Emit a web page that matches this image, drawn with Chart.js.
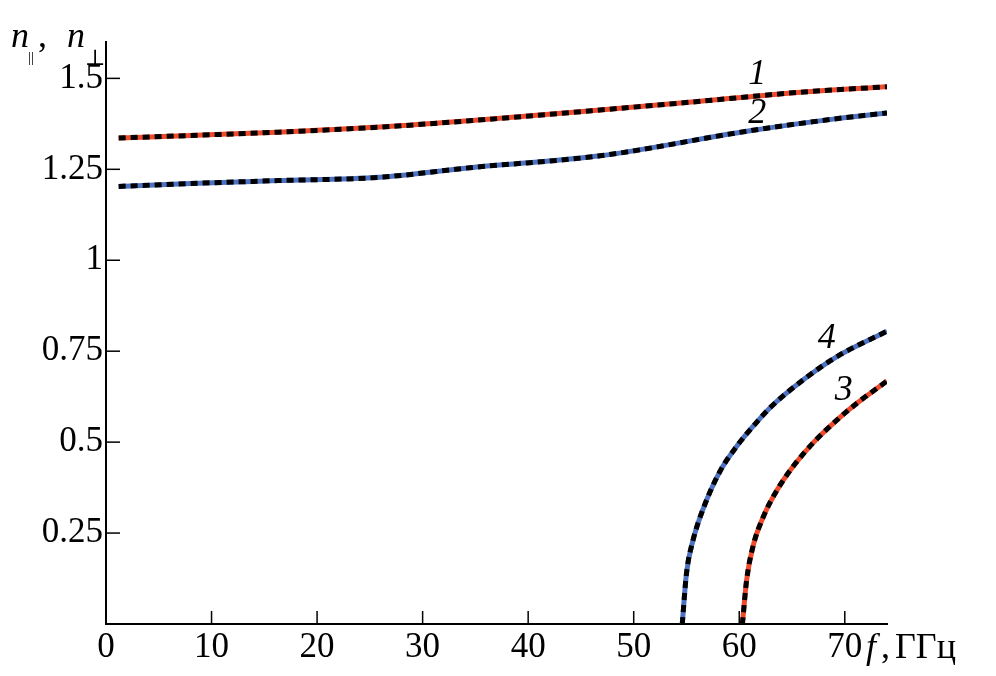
<!DOCTYPE html>
<html><head><meta charset="utf-8">
<script src="https://cdn.jsdelivr.net/npm/chart.js@4.4.0/dist/chart.umd.min.js"></script>
<style>html,body{margin:0;padding:0;background:#fff;}#wrap{width:996px;height:676px;position:relative;}</style>
</head><body><div id="wrap"><canvas id="c" width="996" height="676"></canvas></div>
<script>
// tick values and labels
const xTicks = [0, 10, 20, 30, 40, 50, 60, 70];
const xTickLabels = ['0', '10', '20', '30', '40', '50', '60', '70'];
const yTicks = [0.25, 0.5, 0.75, 1, 1.25, 1.5];
const yTickLabels = ['0.25', '0.5', '0.75', '1', '1.25', '1.5'];

// curve 1
const f1 = [1.2, 8, 16.3, 25.9, 34.7, 46.8, 56.3, 65.8, 74];
const n1 = [1.336, 1.343, 1.352, 1.366, 1.384, 1.413, 1.437, 1.462, 1.477];
// curve 2
const f2 = [1.2, 8, 16.3, 25.9, 34.7, 46.8, 61.0, 68.9, 74];
const n2 = [1.203, 1.211, 1.219, 1.228, 1.255, 1.287, 1.356, 1.388, 1.405];
// curve 3
const f3 = [60.3, 60.7, 61.3, 62.3, 63.6, 65.1, 67.0, 69.3, 71.2, 74];
const n3 = [0, 0.121, 0.213, 0.296, 0.369, 0.433, 0.498, 0.562, 0.608, 0.668];
// curve 4
const f4 = [54.6, 55.0, 55.6, 56.6, 58.2, 59.8, 61.3, 62.9, 66.1, 69.3, 74];
const n4 = [0, 0.139, 0.228, 0.318, 0.421, 0.490, 0.543, 0.594, 0.672, 0.736, 0.805];

const RED = '#f04a2c', BLUE = '#4d72c2';
const pts = (xs, ys) => xs.map((x, i) => ({x, y: ys[i]}));
function pair(xs, ys, color) {
  const base = {pointRadius: 0, borderWidth: 5, fill: false, cubicInterpolationMode: 'monotone', borderCapStyle: 'butt'};
  return [
    // black dashes listed first so they are drawn on top
    Object.assign({}, base, {data: pts(xs, ys), borderColor: '#000', borderDash: [7, 5]}),
    Object.assign({}, base, {data: pts(xs, ys), borderColor: color})
  ];
}

const SERIF = '"Liberation Serif", "DejaVu Serif", serif';

const decor = {
  id: 'decor',
  afterDatasetsDraw(chart) {
    const ctx = chart.ctx, xs = chart.scales.x, ys = chart.scales.y, a = chart.chartArea;
    ctx.save();
    // inward tick marks
    ctx.strokeStyle = '#000'; ctx.lineWidth = 1.5;
    xTicks.forEach(v => { if (v === 0) return; const p = xs.getPixelForValue(v);
      ctx.beginPath(); ctx.moveTo(p, a.bottom); ctx.lineTo(p, a.bottom - 13); ctx.stroke(); });
    yTicks.forEach(v => { const p = ys.getPixelForValue(v);
      ctx.beginPath(); ctx.moveTo(a.left, p); ctx.lineTo(a.left + 14, p); ctx.stroke(); });
    // curve numbers
    ctx.fillStyle = '#000';
    ctx.font = 'italic 36px ' + SERIF;
    ctx.textAlign = 'center'; ctx.textBaseline = 'middle';
    [['1', 61.7, 1.51], ['2', 61.7, 1.402], ['4', 68.3, 0.785], ['3', 69.9, 0.642]].forEach(([t, x, y]) => {
      ctx.fillText(t, xs.getPixelForValue(x), ys.getPixelForValue(y));
    });
    // y axis title
    ctx.textAlign = 'left'; ctx.textBaseline = 'alphabetic';
    ctx.font = 'italic 36px ' + SERIF;
    ctx.fillText('n', 11, 47);
    ctx.fillText('n', 67, 47);
    ctx.font = '36px ' + SERIF;
    ctx.fillText(',', 38, 47);
    ctx.font = '15px ' + SERIF;
    ctx.fillText('||', 28, 62);
    ctx.font = '22px "DejaVu Serif", "DejaVu Sans", serif';
    ctx.fillText('\u22A5', 85, 65);
    // x axis title
    ctx.font = 'italic 36px ' + SERIF;
    ctx.fillText('f', 866, 658);
    ctx.font = '36px ' + SERIF;
    ctx.fillText(',', 881, 658);
    ctx.fillText('ГГц', 895, 658);
    ctx.restore();
  }
};

new Chart(document.getElementById('c'), {
  type: 'line',
  data: {datasets: [...pair(f1, n1, RED), ...pair(f2, n2, BLUE), ...pair(f3, n3, RED), ...pair(f4, n4, BLUE)]},
  options: {
    responsive: false, animation: false, devicePixelRatio: 1,
    layout: {padding: {top: 42, right: 109, left: 0, bottom: 0}},
    plugins: {legend: {display: false}, tooltip: {enabled: false}},
    scales: {
      x: {type: 'linear', min: 0, max: 74,
        grid: {display: false, drawTicks: false},
        border: {display: true, color: '#000', width: 2},
        afterBuildTicks: s => { s.ticks = xTicks.map(v => ({value: v})); },
        afterFit: s => { s.height = 52; },
        ticks: {color: '#000', padding: 3, maxRotation: 0, autoSkip: false,
          font: {family: SERIF, size: 35},
          callback: v => xTickLabels[xTicks.indexOf(v)] ?? ''}
      },
      y: {type: 'linear', min: 0, max: 1.6,
        grid: {display: false, drawTicks: false},
        border: {display: true, color: '#000', width: 2},
        afterBuildTicks: s => { s.ticks = yTicks.map(v => ({value: v})); },
        afterFit: s => { s.width = 106; },
        ticks: {color: '#000', padding: 3, autoSkip: false,
          font: {family: SERIF, size: 35},
          callback: v => yTickLabels[yTicks.indexOf(v)] ?? ''}
      }
    }
  },
  plugins: [decor]
});
</script></body></html>
